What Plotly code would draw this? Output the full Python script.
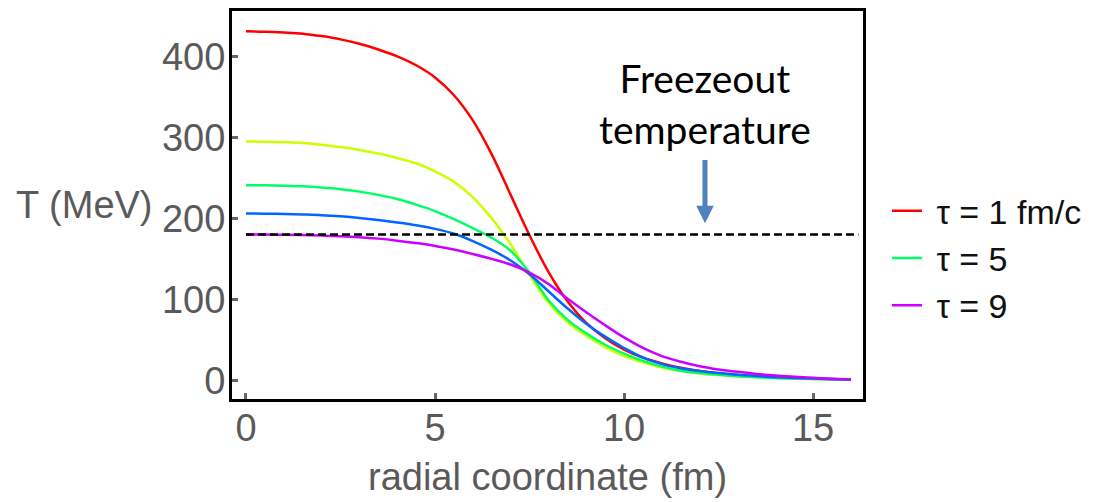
import plotly.graph_objects as go

# ---- data ----
r_fm = [0, 0.5, 1, 1.5, 2, 2.5, 3, 3.5, 4, 4.5, 5, 5.5, 6, 6.5, 7, 7.5, 8,
        8.5, 9, 9.5, 10, 10.5, 11, 11.5, 12, 12.5, 13, 13.5, 14, 14.5, 15, 15.5, 16]
T_tau1 = [431, 430.5, 429.5, 428, 425, 421, 415.5, 408.5, 400, 389, 374, 352, 321, 279, 229, 179, 134,
          98, 71, 52, 38, 28, 21, 15.5, 11.5, 8.5, 6.5, 5, 4, 3, 2.3, 1.6, 1]
T_tau3 = [295, 294.7, 294, 293, 291, 288, 284.5, 280, 274.5, 268, 258, 245, 226, 200, 168, 130, 96,
          72, 55, 41, 30, 22, 16, 11.5, 8.5, 6.5, 5, 3.8, 3, 2.3, 1.7, 1.3, 1]
T_tau5 = [241, 240.8, 240.3, 239.5, 238, 236, 233, 229, 224, 217, 209, 199, 188, 176, 160, 133, 99,
          75, 58, 44, 33, 24, 17, 12, 9, 7, 5.2, 4, 3, 2.3, 1.7, 1.3, 1]
T_tau7 = [206, 205.8, 205.4, 204.8, 204, 202.5, 200.5, 198, 195, 191.5, 187, 181, 172, 161, 148, 131, 110,
          89, 70, 54, 40, 28, 20, 15, 11.5, 9, 7, 5.3, 4, 3, 2.2, 1.5, 1]
T_tau9 = [180, 180, 179.8, 179.4, 178.8, 178, 176.8, 175, 172.5, 169.5, 166, 161.5, 156, 150, 143, 133, 119,
          101, 84, 68, 53, 40, 30, 23, 17.5, 13.5, 10.5, 8, 6, 4.5, 3.2, 2, 1]

series_names = ["\u00a0τ = 1 fm/c", "τ = 3", "\u00a0τ = 5", "τ = 7", "\u00a0τ = 9"]
series_values = [T_tau1, T_tau3, T_tau5, T_tau7, T_tau9]
series_colors = ["#ff0000", "#ccff00", "#00ff66", "#0066ff", "#cc00ff"]
series_in_legend = [True, False, True, False, True]

freeze_x = [0, 16.2]
freeze_T = [180, 180]

x_ticks = [0, 5, 10, 15]
y_ticks = [0, 100, 200, 300, 400]

arrow_x = 12.14
arrow_tip_T = 194
arrow_tail_T = 274

fig = go.Figure()

for name, vals, col, leg in zip(series_names, series_values, series_colors, series_in_legend):
    fig.add_trace(go.Scatter(
        x=r_fm, y=vals, mode="lines", name=name, showlegend=leg,
        line=dict(color=col, width=2.5, shape="spline", smoothing=1.0),
    ))

fig.add_trace(go.Scatter(
    x=freeze_x, y=freeze_T, mode="lines", showlegend=False,
    line=dict(color="black", width=2.5, dash="8px,4px"),
))

label_font = "Liberation Sans, Arial, sans-serif"
tick_font = dict(family=label_font, size=38, color="#5a5a5a")

fig.update_xaxes(
    range=[-0.37, 16.32], tickvals=x_ticks, ticks="inside", ticklen=6, tickwidth=3,
    tickcolor="#666666", showline=True, linecolor="black", linewidth=3, mirror=True,
    showgrid=False, zeroline=False, tickfont=tick_font, ticklabelstandoff=-7,
)
fig.update_yaxes(
    range=[-23, 456], tickvals=y_ticks, ticks="inside", ticklen=6, tickwidth=3,
    tickcolor="#666666", showline=True, linecolor="black", linewidth=3, mirror=True,
    showgrid=False, zeroline=False, tickfont=tick_font, ticklabelstandoff=-4,
)

fig.add_annotation(
    text="T (MeV)", xref="paper", yref="paper", x=-0.122, y=0.5,
    xanchor="right", yanchor="middle", showarrow=False,
    font=dict(family=label_font, size=38, color="#5a5a5a"),
)
fig.add_annotation(
    text="radial coordinate (fm)", xref="paper", yref="paper", x=0.5, y=-0.202,
    xanchor="center", yanchor="middle", showarrow=False,
    font=dict(family=label_font, size=38, color="#5a5a5a"),
)
fig.add_annotation(
    text="Freezeout<br>temperature", xref="x", yref="paper", x=arrow_x, y=0.762,
    xanchor="center", yanchor="middle", showarrow=False,
    font=dict(family="Lato, Open Sans, sans-serif", size=39, color="black"),
)
fig.add_annotation(
    x=arrow_x, y=arrow_tip_T, ax=arrow_x, ay=arrow_tail_T,
    xref="x", yref="y", axref="x", ayref="y", text="",
    showarrow=True, arrowhead=2, arrowsize=0.7, arrowwidth=5, arrowcolor="#4f81bd",
)

fig.update_layout(
    width=1108, height=502,
    margin=dict(l=232, r=245, t=8, b=103),
    paper_bgcolor="white", plot_bgcolor="white",
    showlegend=True,
    legend=dict(
        x=1.038, y=0.363, xanchor="left", yanchor="middle",
        font=dict(family=label_font, size=34, color="#111111"),
        bgcolor="rgba(0,0,0,0)", itemwidth=30,
    ),
)

fig.write_html("out.html")
